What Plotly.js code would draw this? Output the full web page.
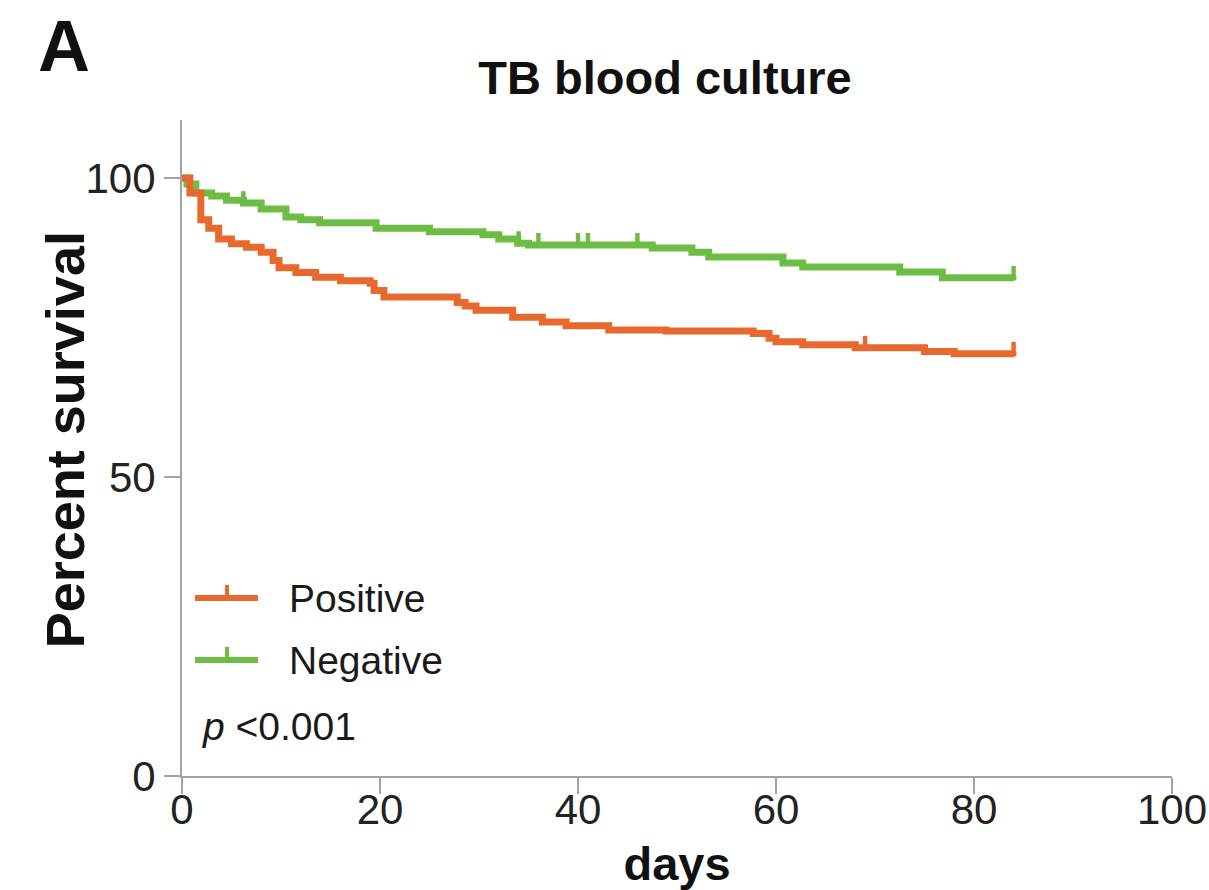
<!DOCTYPE html>
<html>
<head>
<meta charset="utf-8">
<script src="https://cdn.plot.ly/plotly-3.0.1.min.js"></script>
<style>
  html, body { margin: 0; padding: 0; background: #fff; }
  #chart { width: 1209px; height: 890px; }
</style>
</head>
<body>
<div id="chart"></div>
<script>
// Kaplan-Meier steps: time (days) and percent surviving after each event
const posDays = [0, 0.8, 1.9, 2.7, 3.7, 5.0, 6.5, 8.0, 9.2, 9.8, 11.5, 13.5, 16.0, 19.0, 19.4, 20.4, 27.8, 28.6, 29.7, 33.4, 36.4, 38.8, 43.1, 48.9, 57.7, 59.3, 60.0, 62.7, 68.0, 75.0, 78.0, 84.0];
const posSurv = [100, 97.5, 93.0, 91.6, 89.8, 89.0, 88.4, 87.6, 86.2, 85.0, 84.2, 83.4, 82.8, 82.4, 81.2, 80.1, 79.2, 78.6, 77.9, 76.7, 75.9, 75.3, 74.6, 74.4, 74.0, 73.2, 72.6, 72.1, 71.6, 71.0, 70.6, 70.6];

const negDays = [0, 0.5, 1.4, 3.0, 4.5, 6.2, 8.0, 10.5, 12.0, 13.9, 19.6, 25.0, 30.4, 32.0, 33.9, 35.0, 47.5, 51.5, 53.2, 60.7, 62.7, 72.5, 76.8, 84.0];
const negSurv = [100, 99.0, 97.5, 97.0, 96.3, 95.8, 94.8, 93.5, 93.0, 92.5, 91.6, 91.0, 90.5, 89.8, 89.1, 88.8, 88.3, 87.6, 86.8, 85.8, 85.1, 84.3, 83.3, 83.3];

// Censored observations (days)
const posCensor = [69, 84];
const negCensor = [6.2, 34, 36, 40, 41, 46, 84];

const groupNames = ['Positive', 'Negative'];
const xTicks = [0, 20, 40, 60, 80, 100];
const yTicks = [0, 50, 100];

const orange = '#e8692d';
const green = '#6dbd45';
const axisGray = '#a3a3a3';
const FONT = 'Liberation Sans, Arial, Helvetica, sans-serif';

// survival value of a step curve at time t
function stepAt(days, surv, t) {
  let v = surv[0];
  for (let i = 0; i < days.length; i++) { if (days[i] <= t) v = surv[i]; }
  return v;
}

function curve(days, surv, color, name) {
  return {
    x: days, y: surv, name: name, type: 'scatter', mode: 'lines',
    line: { shape: 'hv', color: color, width: 7 },
    showlegend: false, hoverinfo: 'x+y'
  };
}

function censorTicks(times, days, surv, color, name) {
  return {
    x: times, y: times.map(t => stepAt(days, surv, t)), name: name + ' (censored)',
    type: 'scatter', mode: 'markers',
    marker: { size: 0, color: color },
    error_y: { type: 'constant', symmetric: false, value: 2.0, valueminus: 0,
               width: 0, thickness: 4.5, color: color },
    showlegend: false, hoverinfo: 'x+y'
  };
}

const traces = [
  curve(negDays, negSurv, green, groupNames[1]),
  censorTicks(negCensor, negDays, negSurv, green, groupNames[1]),
  curve(posDays, posSurv, orange, groupNames[0]),
  censorTicks(posCensor, posDays, posSurv, orange, groupNames[0])
];

// legend drawn inside the plot area, lower left
const legendRows = [
  { name: groupNames[0], color: orange, y: 0.2713 },
  { name: groupNames[1], color: green, y: 0.1768 }
];
const shapes = [];
const annotations = [];
legendRows.forEach(r => {
  shapes.push({ type: 'line', xref: 'paper', yref: 'paper', x0: 0.0131, x1: 0.0768, y0: r.y, y1: r.y,
                line: { color: r.color, width: 6 } });
  shapes.push({ type: 'line', xref: 'paper', yref: 'paper', x0: 0.0455, x1: 0.0455, y0: r.y, y1: r.y + 0.02,
                line: { color: r.color, width: 4 } });
  annotations.push({ xref: 'paper', yref: 'paper', x: 0.106, y: r.y, xanchor: 'left', yanchor: 'middle',
                     text: r.name, showarrow: false, font: { family: FONT, size: 39, color: '#1a1a1a' } });
});
annotations.push({ xref: 'paper', yref: 'paper', x: 0.018, y: 0.0747, xanchor: 'left', yanchor: 'middle',
                   text: '<i>p</i> <0.001', showarrow: false, font: { family: FONT, size: 39, color: '#1a1a1a' } });
// panel letter
annotations.push({ xref: 'paper', yref: 'paper', x: -0.1475, y: 1.1128, xanchor: 'left', yanchor: 'middle',
                   text: '<b>A</b>', showarrow: false, font: { family: FONT, size: 72, color: '#111' } });
// y-axis title
annotations.push({ xref: 'paper', yref: 'paper', x: -0.118, y: 0.512, xanchor: 'center', yanchor: 'middle',
                   textangle: -90, text: '<b>Percent survival</b>', showarrow: false,
                   font: { family: FONT, size: 54, color: '#111' } });

const layout = {
  width: 1209, height: 890,
  margin: { l: 182, r: 37, t: 120, b: 114 },
  paper_bgcolor: '#fff', plot_bgcolor: '#fff',
  showlegend: false,
  title: { text: '<b>TB blood culture</b>', x: 665 / 1209, xanchor: 'center', xref: 'container',
           y: 1 - 78 / 890, yanchor: 'middle', yref: 'container',
           font: { family: FONT, size: 47, color: '#111' } },
  xaxis: {
    range: [0, 100], tickvals: xTicks, ticktext: xTicks.map(String),
    showgrid: false, zeroline: false, showline: true, linecolor: axisGray, linewidth: 2,
    ticks: 'outside', ticklen: 16, tickwidth: 2, tickcolor: axisGray,
    ticklabelstandoff: -20,
    tickfont: { family: FONT, size: 42, color: '#222' },
    title: { text: '<b>days</b>', standoff: 22, font: { family: FONT, size: 47, color: '#111' } }
  },
  yaxis: {
    range: [0, 109.7], tickvals: yTicks, ticktext: yTicks.map(String),
    showgrid: false, zeroline: false, showline: true, linecolor: axisGray, linewidth: 2,
    ticks: 'outside', ticklen: 16, tickwidth: 2, tickcolor: axisGray,
    tickfont: { family: FONT, size: 42, color: '#222' }
  },
  shapes: shapes,
  annotations: annotations
};

Plotly.newPlot('chart', traces, layout, { displayModeBar: false, staticPlot: true });
</script>
</body>
</html>
